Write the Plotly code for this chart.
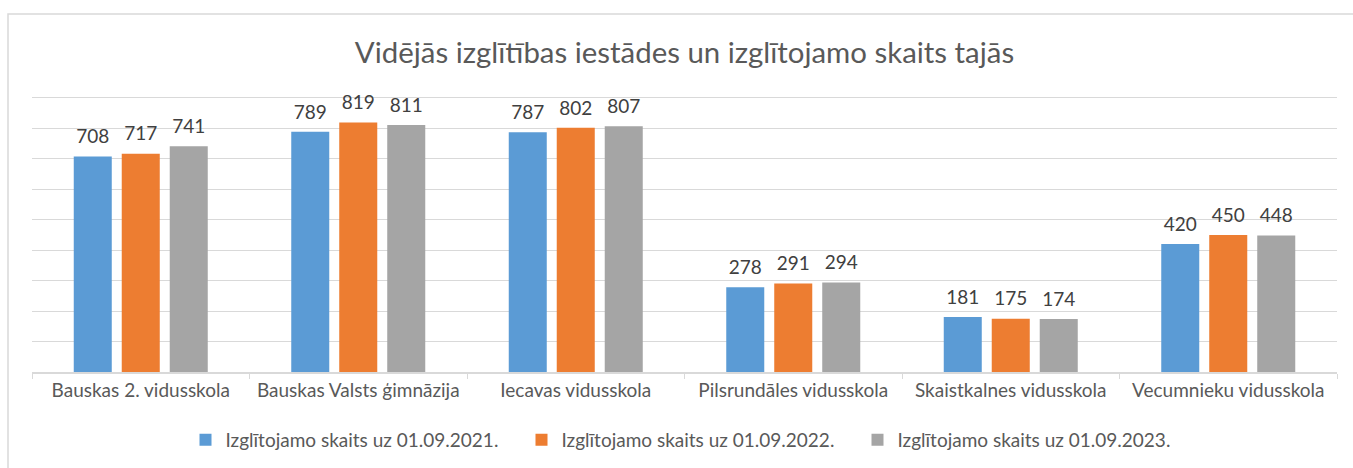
import plotly.graph_objects as go

categories = ["Bauskas 2. vidusskola", "Bauskas Valsts ģimnāzija", "Iecavas vidusskola",
              "Pilsrundāles vidusskola", "Skaistkalnes vidusskola", "Vecumnieku vidusskola"]
series_names = ["Izglītojamo skaits uz 01.09.2021.",
                "Izglītojamo skaits uz 01.09.2022.",
                "Izglītojamo skaits uz 01.09.2023."]
values_2021 = [708, 789, 787, 278, 181, 420]
values_2022 = [717, 819, 802, 291, 175, 450]
values_2023 = [741, 811, 807, 294, 174, 448]
colors = ["#5B9BD5", "#ED7D31", "#A5A5A5"]
title_text = "Vidējās izglītības iestādes un izglītojamo skaits tajās"

FONT = "Lato"
W, H = 1353, 468
ML, MR, MT, MB = 32, 16, 94, 96
BARGAP = 0.338

fig = go.Figure()
all_vals = [values_2021, values_2022, values_2023]
for i, (name, vals) in enumerate(zip(series_names, all_vals)):
    fig.add_trace(go.Bar(
        x=categories, y=vals, name=name, marker_color=colors[i],
        marker_line_width=0, offsetgroup=str(i)))
for i, (name, vals) in enumerate(zip(series_names, all_vals)):
    fig.add_trace(go.Scatter(
        x=categories, y=vals, mode="markers+text", text=[str(v) for v in vals],
        textposition="top center", offsetgroup=str(i), showlegend=False,
        marker=dict(size=12, color="rgba(0,0,0,0)"),
        textfont=dict(family=FONT, size=19, color="#404040"),
        cliponaxis=False, hoverinfo="skip"))

plot_w = W - ML - MR
plot_h = H - MT - MB
fig.add_shape(type="rect", xref="paper", yref="paper",
              x0=(8 - ML) / plot_w, x1=(W + 20 - ML) / plot_w,
              y0=-(H + 20 - MT - plot_h) / plot_h, y1=(H - MB - 14) / plot_h,
              line=dict(color="#d9d9d9", width=1.5), fillcolor="rgba(0,0,0,0)", layer="below")

fig.update_layout(
    width=W, height=H,
    margin=dict(l=ML, r=MR, t=MT, b=MB, autoexpand=False),
    paper_bgcolor="white", plot_bgcolor="white",
    barmode="group", bargap=BARGAP, bargroupgap=0.208,
    scattermode="group", scattergap=BARGAP,
    title=dict(text=title_text, x=0.5, xref="paper", xanchor="center",
               y=1 - 53 / H, yanchor="middle",
               font=dict(family=FONT, size=29.4, color="#595959")),
    font=dict(family=FONT, color="#595959"),
    xaxis=dict(showline=True, linecolor="#d9d9d9", linewidth=1.5,
               ticks="outside", tickson="boundaries", ticklen=5, tickcolor="#d9d9d9",
               tickfont=dict(family=FONT, size=19, color="#595959"),
               showgrid=False, automargin=False),
    yaxis=dict(range=[0, 913], tick0=0, dtick=100, showticklabels=False,
               gridcolor="#d9d9d9", gridwidth=1, zeroline=False, showline=False,
               automargin=False),
    legend=dict(orientation="h", x=0.5 + 5 / plot_w, xanchor="center", y=-(440 - 372) / plot_h,
                yanchor="middle", font=dict(family=FONT, size=19, color="#595959"),
                entrywidth=291, itemwidth=30, traceorder="normal"),
    showlegend=True,
)

fig.write_html("out.html", config={"displayModeBar": False},
               post_script="document.body.style.margin='0';document.body.style.overflow='hidden';")
